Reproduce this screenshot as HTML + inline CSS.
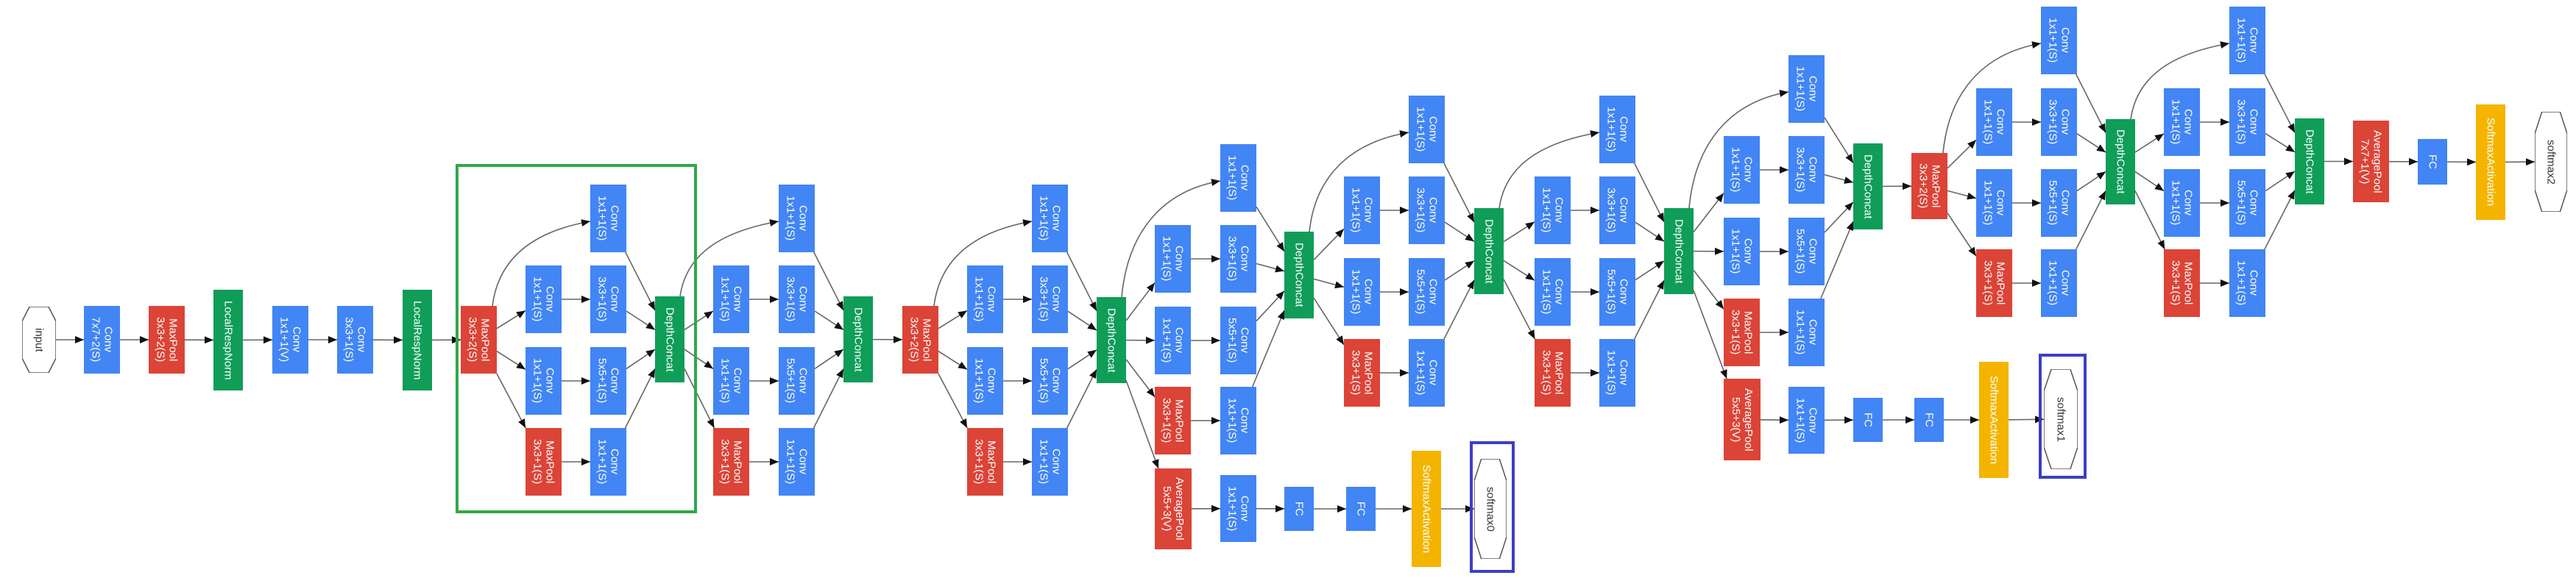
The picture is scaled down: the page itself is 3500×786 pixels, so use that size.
<!DOCTYPE html>
<html><head><meta charset="utf-8">
<style>
html,body{margin:0;padding:0;background:#fff;}
#wrap{position:relative;width:3500px;height:786px;overflow:hidden;background:#fff;}
.n{position:absolute;box-sizing:border-box;display:flex;align-items:center;justify-content:center;color:#fff;font:15px/17px "Liberation Sans",sans-serif;writing-mode:vertical-rl;text-align:center;white-space:nowrap;}
.b{background:#4285f4;width:49px;height:92px;}
.r{background:#db4437;width:49px;height:92px;}
.g{background:#0f9d58;width:40px;height:117px;}
.y{background:#f4b400;width:40px;height:158px;}
.fc{background:#4285f4;width:40px;height:60px;}
.hx{color:#333;background:transparent;}
.hx svg{position:absolute;left:0;top:0;width:100%;height:100%;}
.hx span{position:relative;}
.frame{position:absolute;box-sizing:border-box;}
svg#edges{position:absolute;left:0;top:0;}
</style></head><body>
<div id="wrap">
<svg id="edges" width="3500" height="786">
<defs><marker id="ah" markerUnits="userSpaceOnUse" markerWidth="13" markerHeight="10" refX="12" refY="5" orient="auto"><path d="M0,0 L12,5 L0,10 z" fill="#111"/></marker></defs>
<g id="eg" fill="none" stroke="#666" stroke-width="1.6"></g>
</svg>

<div class="frame" style="left:619px;top:223px;width:328px;height:475px;border:4px solid #2eaa4a;"></div>
<div class="frame" style="left:1997px;top:600px;width:61px;height:179px;border:4px solid #3b3fc4;"></div>
<div class="frame" style="left:2770px;top:481px;width:65px;height:170px;border:4px solid #3b3fc4;"></div>

<div class="n hx" id="input" style="left:30px;top:417px;width:46px;height:90px;"><svg viewBox="0 0 100 100" preserveAspectRatio="none"><polygon points="22,0 78,0 100,22 100,78 78,100 22,100 0,78 0,22" fill="#fff" stroke="#555" stroke-width="1.5" vector-effect="non-scaling-stroke"/></svg><span>input</span></div>
<div class="n b" id="c1" style="left:114px;top:416px;">Conv<br>7x7+2(S)</div>
<div class="n r" id="mp1" style="left:202px;top:416px;">MaxPool<br>3x3+2(S)</div>
<div class="n g" id="lrn1" style="left:290px;top:394px;height:137px;">LocalRespNorm</div>
<div class="n b" id="c2" style="left:370px;top:416px;">Conv<br>1x1+1(V)</div>
<div class="n b" id="c3" style="left:458px;top:416px;">Conv<br>3x3+1(S)</div>
<div class="n g" id="lrn2" style="left:547px;top:394px;height:137px;">LocalRespNorm</div>
<div class="n r" id="mp2" style="left:626px;top:416px;">MaxPool<br>3x3+2(S)</div>

<!-- block a -->
<div class="n b" id="a_t" style="left:802px;top:251px;">Conv<br>1x1+1(S)</div>
<div class="n b" id="a_1a" style="left:714px;top:361px;">Conv<br>1x1+1(S)</div>
<div class="n b" id="a_1b" style="left:802px;top:361px;">Conv<br>3x3+1(S)</div>
<div class="n b" id="a_2a" style="left:714px;top:472px;">Conv<br>1x1+1(S)</div>
<div class="n b" id="a_2b" style="left:802px;top:472px;">Conv<br>5x5+1(S)</div>
<div class="n r" id="a_3a" style="left:714px;top:582px;">MaxPool<br>3x3+1(S)</div>
<div class="n b" id="a_3b" style="left:802px;top:582px;">Conv<br>1x1+1(S)</div>
<div class="n g" id="a_dc" style="left:890px;top:403px;">DepthConcat</div>
<!-- block b -->
<div class="n b" id="b_t" style="left:1058px;top:251px;">Conv<br>1x1+1(S)</div>
<div class="n b" id="b_1a" style="left:969px;top:361px;">Conv<br>1x1+1(S)</div>
<div class="n b" id="b_1b" style="left:1058px;top:361px;">Conv<br>3x3+1(S)</div>
<div class="n b" id="b_2a" style="left:969px;top:472px;">Conv<br>1x1+1(S)</div>
<div class="n b" id="b_2b" style="left:1058px;top:472px;">Conv<br>5x5+1(S)</div>
<div class="n r" id="b_3a" style="left:969px;top:582px;">MaxPool<br>3x3+1(S)</div>
<div class="n b" id="b_3b" style="left:1058px;top:582px;">Conv<br>1x1+1(S)</div>
<div class="n g" id="b_dc" style="left:1146px;top:403px;">DepthConcat</div>
<div class="n r" id="mp3" style="left:1226px;top:416px;">MaxPool<br>3x3+2(S)</div>
<!-- block c -->
<div class="n b" id="c_t" style="left:1402px;top:251px;">Conv<br>1x1+1(S)</div>
<div class="n b" id="c_1a" style="left:1314px;top:361px;">Conv<br>1x1+1(S)</div>
<div class="n b" id="c_1b" style="left:1402px;top:361px;">Conv<br>3x3+1(S)</div>
<div class="n b" id="c_2a" style="left:1314px;top:472px;">Conv<br>1x1+1(S)</div>
<div class="n b" id="c_2b" style="left:1402px;top:472px;">Conv<br>5x5+1(S)</div>
<div class="n r" id="c_3a" style="left:1314px;top:582px;">MaxPool<br>3x3+1(S)</div>
<div class="n b" id="c_3b" style="left:1402px;top:582px;">Conv<br>1x1+1(S)</div>
<div class="n g" id="c_dc" style="left:1490px;top:404px;">DepthConcat</div>
<!-- block d -->
<div class="n b" id="d_t" style="left:1658px;top:196px;">Conv<br>1x1+1(S)</div>
<div class="n b" id="d_1a" style="left:1569px;top:306px;">Conv<br>1x1+1(S)</div>
<div class="n b" id="d_1b" style="left:1658px;top:306px;">Conv<br>3x3+1(S)</div>
<div class="n b" id="d_2a" style="left:1569px;top:417px;">Conv<br>1x1+1(S)</div>
<div class="n b" id="d_2b" style="left:1658px;top:417px;">Conv<br>5x5+1(S)</div>
<div class="n r" id="d_3a" style="left:1569px;top:526px;">MaxPool<br>3x3+1(S)</div>
<div class="n b" id="d_3b" style="left:1658px;top:526px;">Conv<br>1x1+1(S)</div>
<div class="n g" id="d_dc" style="left:1745px;top:315px;height:118px;">DepthConcat</div>
<!-- aux0 -->
<div class="n r" id="x0_avg" style="left:1569px;top:637px;width:50px;height:110px;">AveragePool<br>5x5+3(V)</div>
<div class="n b" id="x0_c" style="left:1658px;top:646px;height:91px;">Conv<br>1x1+1(S)</div>
<div class="n fc" id="x0_f1" style="left:1745px;top:662px;">FC</div>
<div class="n fc" id="x0_f2" style="left:1829px;top:662px;">FC</div>
<div class="n y" id="x0_sm" style="left:1918px;top:613px;">SoftmaxActivation</div>
<div class="n hx" id="x0_out" style="left:2003px;top:624px;width:44px;height:136px;"><svg viewBox="0 0 100 100" preserveAspectRatio="none"><polygon points="22,0 78,0 100,22 100,78 78,100 22,100 0,78 0,22" fill="#fff" stroke="#555" stroke-width="1.5" vector-effect="non-scaling-stroke"/></svg><span>softmax0</span></div>
<!-- block e -->
<div class="n b" id="e_t" style="left:1914px;top:130px;">Conv<br>1x1+1(S)</div>
<div class="n b" id="e_1a" style="left:1826px;top:240px;">Conv<br>1x1+1(S)</div>
<div class="n b" id="e_1b" style="left:1914px;top:240px;">Conv<br>3x3+1(S)</div>
<div class="n b" id="e_2a" style="left:1826px;top:351px;">Conv<br>1x1+1(S)</div>
<div class="n b" id="e_2b" style="left:1914px;top:351px;">Conv<br>5x5+1(S)</div>
<div class="n r" id="e_3a" style="left:1826px;top:461px;">MaxPool<br>3x3+1(S)</div>
<div class="n b" id="e_3b" style="left:1914px;top:461px;">Conv<br>1x1+1(S)</div>
<div class="n g" id="e_dc" style="left:2003px;top:283px;">DepthConcat</div>
<!-- block f -->
<div class="n b" id="f_t" style="left:2173px;top:130px;">Conv<br>1x1+1(S)</div>
<div class="n b" id="f_1a" style="left:2085px;top:240px;">Conv<br>1x1+1(S)</div>
<div class="n b" id="f_1b" style="left:2173px;top:240px;">Conv<br>3x3+1(S)</div>
<div class="n b" id="f_2a" style="left:2085px;top:351px;">Conv<br>1x1+1(S)</div>
<div class="n b" id="f_2b" style="left:2173px;top:351px;">Conv<br>5x5+1(S)</div>
<div class="n r" id="f_3a" style="left:2085px;top:461px;">MaxPool<br>3x3+1(S)</div>
<div class="n b" id="f_3b" style="left:2173px;top:461px;">Conv<br>1x1+1(S)</div>
<div class="n g" id="f_dc" style="left:2261px;top:283px;">DepthConcat</div>
<!-- aux1 -->
<div class="n r" id="x1_avg" style="left:2342px;top:515px;width:50px;height:111px;">AveragePool<br>5x5+3(V)</div>
<div class="n b" id="x1_c" style="left:2430px;top:526px;height:91px;">Conv<br>1x1+1(S)</div>
<div class="n fc" id="x1_f1" style="left:2518px;top:541px;">FC</div>
<div class="n fc" id="x1_f2" style="left:2601px;top:541px;">FC</div>
<div class="n y" id="x1_sm" style="left:2689px;top:492px;">SoftmaxActivation</div>
<div class="n hx" id="x1_out" style="left:2777px;top:502px;width:46px;height:136px;"><svg viewBox="0 0 100 100" preserveAspectRatio="none"><polygon points="22,0 78,0 100,22 100,78 78,100 22,100 0,78 0,22" fill="#fff" stroke="#555" stroke-width="1.5" vector-effect="non-scaling-stroke"/></svg><span>softmax1</span></div>
<!-- block g -->
<div class="n b" id="g_t" style="left:2430px;top:75px;">Conv<br>1x1+1(S)</div>
<div class="n b" id="g_1a" style="left:2342px;top:185px;">Conv<br>1x1+1(S)</div>
<div class="n b" id="g_1b" style="left:2430px;top:185px;">Conv<br>3x3+1(S)</div>
<div class="n b" id="g_2a" style="left:2342px;top:296px;">Conv<br>1x1+1(S)</div>
<div class="n b" id="g_2b" style="left:2430px;top:296px;">Conv<br>5x5+1(S)</div>
<div class="n r" id="g_3a" style="left:2342px;top:406px;">MaxPool<br>3x3+1(S)</div>
<div class="n b" id="g_3b" style="left:2430px;top:406px;">Conv<br>1x1+1(S)</div>
<div class="n g" id="g_dc" style="left:2518px;top:195px;">DepthConcat</div>
<div class="n r" id="mp4" style="left:2597px;top:208px;height:90px;">MaxPool<br>3x3+2(S)</div>
<!-- block h -->
<div class="n b" id="h_t" style="left:2773px;top:9px;">Conv<br>1x1+1(S)</div>
<div class="n b" id="h_1a" style="left:2685px;top:120px;">Conv<br>1x1+1(S)</div>
<div class="n b" id="h_1b" style="left:2773px;top:120px;">Conv<br>3x3+1(S)</div>
<div class="n b" id="h_2a" style="left:2685px;top:230px;">Conv<br>1x1+1(S)</div>
<div class="n b" id="h_2b" style="left:2773px;top:230px;">Conv<br>5x5+1(S)</div>
<div class="n r" id="h_3a" style="left:2685px;top:339px;">MaxPool<br>3x3+1(S)</div>
<div class="n b" id="h_3b" style="left:2773px;top:339px;">Conv<br>1x1+1(S)</div>
<div class="n g" id="h_dc" style="left:2861px;top:162px;height:116px;">DepthConcat</div>
<!-- block i -->
<div class="n b" id="i_t" style="left:3029px;top:9px;">Conv<br>1x1+1(S)</div>
<div class="n b" id="i_1a" style="left:2940px;top:120px;">Conv<br>1x1+1(S)</div>
<div class="n b" id="i_1b" style="left:3029px;top:120px;">Conv<br>3x3+1(S)</div>
<div class="n b" id="i_2a" style="left:2940px;top:230px;">Conv<br>1x1+1(S)</div>
<div class="n b" id="i_2b" style="left:3029px;top:230px;">Conv<br>5x5+1(S)</div>
<div class="n r" id="i_3a" style="left:2940px;top:339px;">MaxPool<br>3x3+1(S)</div>
<div class="n b" id="i_3b" style="left:3029px;top:339px;">Conv<br>1x1+1(S)</div>
<div class="n g" id="i_dc" style="left:3118px;top:161px;">DepthConcat</div>
<!-- tail -->
<div class="n r" id="avgF" style="left:3197px;top:164px;height:111px;">AveragePool<br>7x7+1(V)</div>
<div class="n fc" id="fcF" style="left:3285px;top:189px;height:62px;">FC</div>
<div class="n y" id="smF" style="left:3364px;top:142px;height:157px;">SoftmaxActivation</div>
<div class="n hx" id="out2" style="left:3444px;top:152px;width:44px;height:136px;"><svg viewBox="0 0 100 100" preserveAspectRatio="none"><polygon points="22,0 78,0 100,22 100,78 78,100 22,100 0,78 0,22" fill="#fff" stroke="#555" stroke-width="1.5" vector-effect="non-scaling-stroke"/></svg><span>softmax2</span></div>
</div>
<script>
(function(){
var g=document.getElementById('eg');
function R(id){var e=document.getElementById(id);return {x:e.offsetLeft,y:e.offsetTop,w:e.offsetWidth,h:e.offsetHeight};}
function clip(r,px,py){var cx=r.x+r.w/2,cy=r.y+r.h/2,dx=px-cx,dy=py-cy;var t=Infinity;
 if(dx!==0)t=Math.min(t,(r.w/2)/Math.abs(dx)); if(dy!==0)t=Math.min(t,(r.h/2)/Math.abs(dy)); if(!isFinite(t))t=0;
 return [cx+dx*t,cy+dy*t];}
function add(d){var p=document.createElementNS('http://www.w3.org/2000/svg','path');p.setAttribute('d',d);p.setAttribute('marker-end','url(#ah)');g.appendChild(p);}
function line(a,b){var A=R(a),B=R(b);var ac=[A.x+A.w/2,A.y+A.h/2],bc=[B.x+B.w/2,B.y+B.h/2];
 var s=clip(A,bc[0],bc[1]),e=clip(B,ac[0],ac[1]);add('M'+s[0]+','+s[1]+' L'+e[0]+','+e[1]);}
function curve(a,b){var A=R(a),B=R(b);var sx=A.x+A.w-6,sy=A.y;var ex=B.x,ey=B.y+B.h/2+4;
 add('M'+sx+','+sy+' C'+(sx+8)+','+(sy-(sy-ey)*0.55)+' '+(sx+(ex-sx)*0.4)+','+(ey+14)+' '+ex+','+ey);}
var chain=['input','c1','mp1','lrn1','c2','c3','lrn2','mp2'];
for(var i=0;i<chain.length-1;i++)line(chain[i],chain[i+1]);
var blocks=[['mp2','a'],['a_dc','b'],['mp3','c'],['c_dc','d'],['d_dc','e'],['e_dc','f'],['f_dc','g'],['mp4','h'],['h_dc','i']];
blocks.forEach(function(b){var p=b[0],k=b[1];
 curve(p,k+'_t');line(p,k+'_1a');line(p,k+'_2a');line(p,k+'_3a');
 line(k+'_1a',k+'_1b');line(k+'_2a',k+'_2b');line(k+'_3a',k+'_3b');
 line(k+'_t',k+'_dc');line(k+'_1b',k+'_dc');line(k+'_2b',k+'_dc');line(k+'_3b',k+'_dc');});
line('b_dc','mp3');line('g_dc','mp4');
line('c_dc','x0_avg');line('f_dc','x1_avg');
['x0','x1'].forEach(function(x){line(x+'_avg',x+'_c');line(x+'_c',x+'_f1');line(x+'_f1',x+'_f2');line(x+'_f2',x+'_sm');line(x+'_sm',x+'_out');});
line('i_dc','avgF');line('avgF','fcF');line('fcF','smF');line('smF','out2');
})();
</script>
</body></html>
